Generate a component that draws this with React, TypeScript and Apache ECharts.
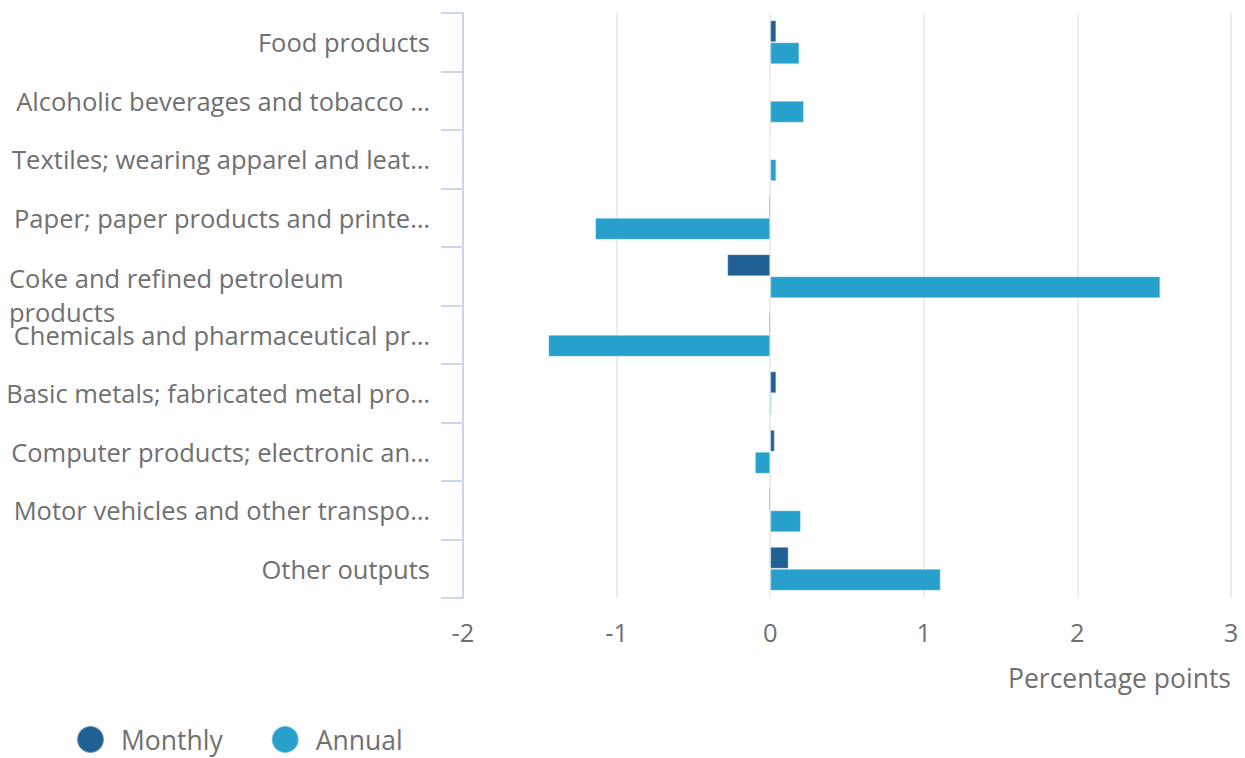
import React, { useEffect, useRef } from "react";
import * as echarts from "echarts";

const categories = [
  "Food products",
  "Alcoholic beverages and tobacco …",
  "Textiles; wearing apparel and leat…",
  "Paper; paper products and printe…",
  "Coke and refined petroleum\nproducts",
  "Chemicals and pharmaceutical pr…",
  "Basic metals; fabricated metal pro…",
  "Computer products; electronic an…",
  "Motor vehicles and other transpo…",
  "Other outputs",
];
const monthly = [0.04, 0, 0, -0.01, -0.28, -0.01, 0.04, 0.03, -0.01, 0.12];
const annual = [0.19, 0.22, 0.04, -1.14, 2.54, -1.445, 0.01, -0.1, 0.2, 1.11];
const xTicks = [-2, -1, 0, 1, 2, 3];
const seriesNames = ["Monthly", "Annual"];
const colors = ["#206095", "#27a0cc"];
const axisTitle = "Percentage points";

const FONT = "'Open Sans', 'Noto Sans', sans-serif";
const TEXT = "#707070";
const LABEL_FS = 25.5;
const BIG_FS = 26.5;

export default function App() {
  const ref = useRef<HTMLDivElement>(null);
  useEffect(() => {
    if (!ref.current) return;
    const chart = echarts.init(ref.current, undefined, { renderer: "svg" });
    const labelWidth = 421;
    chart.setOption({
      animation: false,
      textStyle: { fontFamily: FONT },
      grid: { left: 463, right: 14, top: 13, bottom: 160, containLabel: false },
      legend: {
        data: seriesNames,
        left: 76,
        top: 725,
        padding: 0,
        icon: "circle",
        itemWidth: 27,
        itemHeight: 27,
        itemGap: 48,
        textStyle: { fontSize: BIG_FS, color: TEXT, fontFamily: FONT, padding: [0, 0, 0, 12] },
      },
      xAxis: {
        type: "value",
        min: xTicks[0],
        max: xTicks[xTicks.length - 1],
        interval: 1,
        axisLine: { show: false },
        axisTick: { show: false },
        splitLine: { show: true, lineStyle: { color: "#e6e6e6", width: 1.5 } },
        axisLabel: { fontSize: LABEL_FS, color: TEXT, margin: 21, fontFamily: FONT },
      },
      yAxis: {
        type: "category",
        data: categories,
        inverse: true,
        axisLine: { show: true, onZero: false, lineStyle: { color: "#ccd6eb", width: 2 } },
        axisTick: { show: true, length: 22, lineStyle: { color: "#ccd6eb", width: 2 } },
        axisLabel: {
          margin: 33,
          align: "right",
          color: TEXT,
          fontSize: LABEL_FS,
          fontFamily: FONT,
          formatter: (v: string) => {
            const lines = v.split("\n");
            if (lines.length > 1)
              return ["{e| }"].concat(lines.map((l) => `{l|${l}}`)).join("\n");
            return `{r|${v}}`;
          },
          rich: {
            r: { width: labelWidth, align: "right", fontSize: LABEL_FS, color: TEXT, fontFamily: FONT, lineHeight: 34 },
            e: { width: labelWidth, fontSize: 4, lineHeight: 38 },
            l: { width: labelWidth, align: "left", fontSize: LABEL_FS, color: TEXT, fontFamily: FONT, lineHeight: 34 },
          },
        },
      },
      series: [
        {
          name: seriesNames[0],
          type: "bar",
          data: monthly,
          itemStyle: { color: colors[0], borderColor: "rgba(255,255,255,0.35)", borderWidth: 1 },
          barWidth: 22,
          barGap: "0%",
        },
        {
          name: seriesNames[1],
          type: "bar",
          data: annual,
          itemStyle: { color: colors[1], borderColor: "rgba(255,255,255,0.35)", borderWidth: 1 },
          barWidth: 22,
          barGap: "0%",
        },
      ],
      graphic: [
        {
          type: "text",
          right: 14,
          top: 664,
          style: { text: axisTitle, fontSize: BIG_FS, fill: TEXT, fontFamily: FONT },
        },
      ],
    });
    return () => chart.dispose();
  }, []);
  return <div ref={ref} style={{ width: 1245, height: 758, position: "absolute", left: 0, top: 0 }} />;
}
